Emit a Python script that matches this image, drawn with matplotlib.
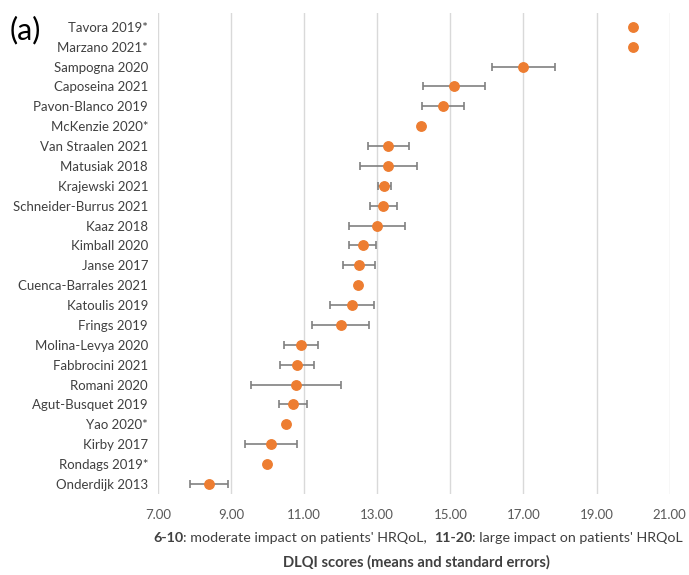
import matplotlib
matplotlib.use("Agg")
import matplotlib.pyplot as plt
import numpy as np

plt.rcParams['font.family'] = ['Lato', 'DejaVu Sans']

# Studies, top to bottom
studies = ["Tavora 2019*", "Marzano 2021*", "Sampogna 2020", "Caposeina 2021",
           "Pavon-Blanco 2019", "McKenzie 2020*", "Van Straalen 2021", "Matusiak 2018",
           "Krajewski 2021", "Schneider-Burrus 2021", "Kaaz 2018", "Kimball 2020",
           "Janse 2017", "Cuenca-Barrales 2021", "Katoulis 2019", "Frings 2019",
           "Molina-Levya 2020", "Fabbrocini 2021", "Romani 2020", "Agut-Busquet 2019",
           "Yao 2020*", "Kirby 2017", "Rondags 2019*", "Onderdijk 2013"]
means = [20.0, 20.0, 17.0, 15.1, 14.8, 14.2, 13.3, 13.3, 13.2, 13.17, 13.0, 12.6,
         12.5, 12.47, 12.3, 12.0, 10.92, 10.8, 10.78, 10.7, 10.5, 10.1, 10.0, 8.4]
# standard errors (nan = not reported)
se = [np.nan, np.nan, 0.87, 0.84, 0.58, np.nan, 0.56, 0.78, 0.19, 0.37, 0.77, 0.36,
      0.43, np.nan, 0.6, 0.78, 0.47, 0.46, 1.23, 0.39, np.nan, 0.71, np.nan, 0.52]
xticks = [7, 9, 11, 13, 15, 17, 19, 21]

fig = plt.figure(figsize=(6.89, 5.75), dpi=100)
ax = fig.add_axes([0.229, 0.141, 0.743, 0.836])

y = np.arange(len(studies))
ax.errorbar(means, y, xerr=se, fmt='none', ecolor='#808080', elinewidth=1.2,
            capsize=3.2, capthick=1.2, zorder=2)
ax.plot(means, y, 'o', color='#ED7D31', markersize=6.8, zorder=3)

ax.set_xlim(7, 21)
ax.set_ylim(23.5, -0.68)
ax.set_xticks(xticks)
ax.set_xticklabels([f"{v:.2f}" for v in xticks], color='#595959', fontsize=9.5)
ax.set_yticks(y)
ax.set_yticklabels(studies, color='#404040', fontsize=9.5)
ax.tick_params(length=0, pad=7)
ax.tick_params(axis='x', pad=11)
ax.grid(axis='x', color='#D9D9D9', linewidth=1)
ax.set_axisbelow(True)
for s in ax.spines.values():
    s.set_visible(False)

fig.text(0.014, 0.948, "(a)", fontsize=22, color='black', va='center', ha='left')

# x-axis title, first line with bold ranges
parts = [("6-10", 'bold'), (": moderate impact on patients' HRQoL,  ", 'normal'),
         ("11-20", 'bold'), (": large impact on patients' HRQoL", 'normal')]
fig.canvas.draw()
r = fig.canvas.get_renderer()
texts = [fig.text(0, 0.064, p, fontsize=10.3, fontweight=w, color='#404040', va='center')
         for p, w in parts]
widths = [t.get_window_extent(r).width for t in texts]
total = sum(widths)
x0 = min(418 - total / 2, 685 - total)
for t, w in zip(texts, widths):
    t.set_x(x0 / fig.bbox.width)
    x0 += w
fig.text(416 / fig.bbox.width, 0.022, "DLQI scores (means and standard errors)",
         fontsize=10.6, fontweight='bold', color='#404040', ha='center', va='center')

fig.savefig("out.png", dpi=100)
